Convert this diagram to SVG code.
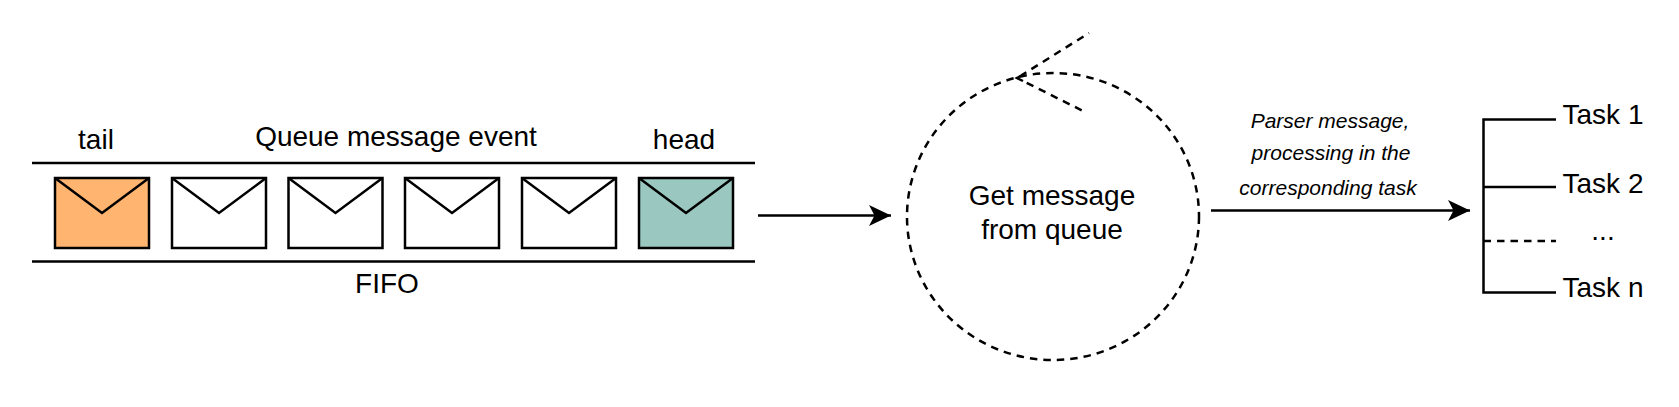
<svg xmlns="http://www.w3.org/2000/svg" width="1679" height="407" viewBox="0 0 1679 407">
<style>
text{font-family:"Liberation Sans",Arial,sans-serif;fill:#000;text-anchor:middle}
.l{font-size:28px}
.i{font-size:21px;font-style:italic}
.s{fill:none;stroke:#000;stroke-width:2.500}
.d{stroke-dasharray:7.500 6}
.e{stroke:#000;stroke-width:2.500}
</style>
<defs>
<marker id="a" markerUnits="userSpaceOnUse" markerWidth="24" markerHeight="24" refX="22" refY="12" orient="auto"><path d="M0 1.500L22 12L0 22.500L5.500 12Z" fill="#000"/></marker>
<g id="env"><rect x="0" y="0" width="94" height="70" class="e"/><path d="M0 0L47 35L94 0" class="s"/></g>
</defs>
<rect width="1679" height="407" fill="#fff"/>
<g id="fifo">
<path d="M32 163H755M32 261.500H755" class="s"/>
<text class="l" x="96" y="149">tail</text>
<text class="l" x="396" y="145.500">Queue message event</text>
<text class="l" x="684" y="149">head</text>
<text class="l" x="387" y="293">FIFO</text>
</g>
<g id="msg1"><use href="#env" x="55" y="178" fill="#ffb570"/></g>
<g id="msg2"><use href="#env" x="172" y="178" fill="#fff"/></g>
<g id="msg3"><use href="#env" x="288.500" y="178" fill="#fff"/></g>
<g id="msg4"><use href="#env" x="405" y="178" fill="#fff"/></g>
<g id="msg5"><use href="#env" x="522" y="178" fill="#fff"/></g>
<g id="msg6"><use href="#env" x="639" y="178" fill="#9ac7bf"/></g>
<g id="loop">
<ellipse cx="1053" cy="216.500" rx="146" ry="143.500" class="s d"/>
<path d="M1089 33L1022 75" class="s d" stroke-dashoffset="7"/>
<path d="M1024 81.500L1085 112" class="s d" stroke-dashoffset="-3"/>
<path d="M1023 74.500L1017 78L1023 81" class="s"/>
<text class="l" x="1052" y="205">Get message</text>
<text class="l" x="1052" y="239">from queue</text>
</g>
<g id="connectors">
<path d="M758 215.500H891" class="s" marker-end="url(#a)"/>
<path d="M1211 210.500H1470" class="s" marker-end="url(#a)"/>
</g>
<g id="label"><text class="i" x="1330" y="127.500">Parser message,</text><text class="i" x="1331" y="160">processing in the</text><text class="i" x="1328" y="195">corresponding task</text></g>
<g id="tasks">
<path d="M1556 119.500H1483.500V292.500H1556M1483.500 187H1556" class="s"/>
<path d="M1483.500 241H1556" class="s d"/>
<text class="l" x="1603" y="124">Task 1</text>
<text class="l" x="1603" y="192.500">Task 2</text>
<text class="l" x="1603" y="240">...</text>
<text class="l" x="1603" y="297">Task n</text>
</g>
</svg>
